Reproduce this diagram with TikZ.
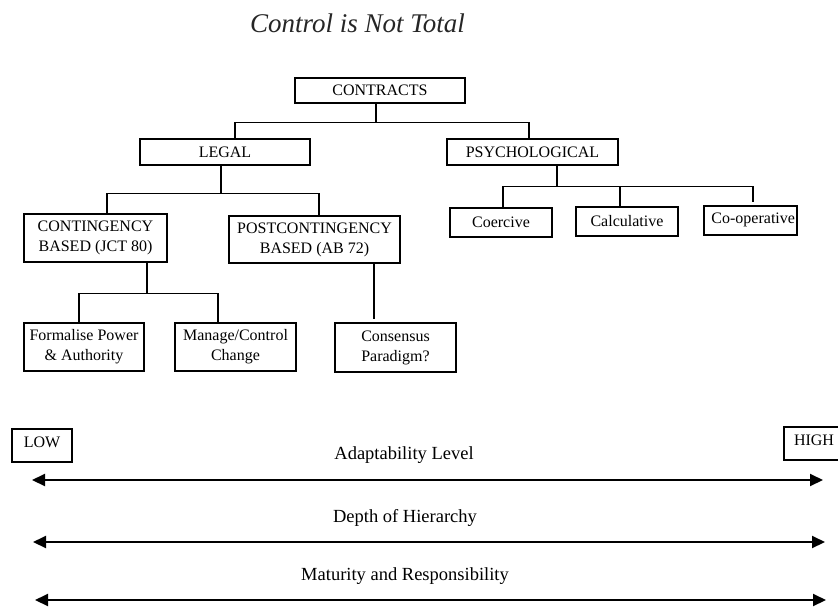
\documentclass[tikz,border=0pt]{standalone}
\usepackage{fontspec}
\setmainfont{Liberation Serif}
\usetikzlibrary{arrows.meta,calc}

\begin{document}
\begin{tikzpicture}[x=1pt,y=-1pt,
  box/.style={draw,line width=1.4pt,inner sep=0pt,align=center,
    font=\fontsize{16}{20}\selectfont},
  link/.style={line width=1.4pt},
  scaleline/.style={line width=2pt,
    {Triangle[length=13pt,width=12pt]}-{Triangle[length=13pt,width=12pt]}},
  axislabel/.style={anchor=base,font=\fontsize{18.5}{22}\selectfont},
  endbox/.style={box,minimum width=60pt,minimum height=33pt,
    text height=10pt,text depth=7pt}]
\useasboundingbox (0,0) rectangle (838,608);
\clip (0,0) rectangle (838,608);

% title
\node[anchor=base,font=\fontsize{27}{32}\selectfont\itshape,text=black!85]
  (title) at (357.5,32) {Control is Not Total};

% tree of contract types
\node[box,minimum width=170pt,minimum height=25pt] (contracts) at (380,90.5) {CONTRACTS};
\node[box,minimum width=170pt,minimum height=26pt] (legal) at (225,152) {LEGAL};
\node[box,minimum width=171pt,minimum height=26pt] (psych) at (532.5,152) {PSYCHOLOGICAL};
\node[box,minimum width=143pt,minimum height=48pt] (cont) at (95.5,238) {CONTINGENCY\\BASED (JCT 80)};
\node[box,minimum width=171pt,minimum height=47pt] (post) at (314.5,239.5) {POSTCONTINGENCY\\BASED (AB 72)};
\node[box,minimum width=120pt,minimum height=48pt] (formal) at (84,347) {Formalise Power\\\& Authority};
\node[box,minimum width=121pt,minimum height=48pt] (manage) at (235.5,347) {Manage/Control\\Change};
\node[box,minimum width=121pt,minimum height=49pt] (consensus) at (395.5,347.5) {Consensus\\Paradigm?};
\node[box,minimum width=102pt,minimum height=29pt] (coercive) at (501,222.5) {Coercive};
\node[box,minimum width=102pt,minimum height=29pt] (calc) at (627,221.5) {Calculative};
\node[box,minimum width=93pt,minimum height=29pt,text width=89pt,align=right,
  inner xsep=2pt,text height=10.5pt,text depth=5pt] (coop) at (750.5,220.5) {Co-operative};

% connectors
\draw[link] ($(contracts.south)+(-4,0)$) -- ++(0,19) -| ($(legal.north)+(10,0)$);
\draw[link] ($(contracts.south)+(-4,0)$) -- ++(0,19) -| ($(psych.north)+(-3.5,0)$);
\draw[link] ($(legal.south)+(-4,0)$) -- ++(0,28) -| ($(cont.north)+(11.5,0)$);
\draw[link] ($(legal.south)+(-4,0)$) -- ++(0,28) -| ($(post.north)+(4.5,0)$);
\draw[link] ($(cont.south)+(51.5,0)$) -- ++(0,31) -| ($(formal.north)+(-5,0)$);
\draw[link] ($(cont.south)+(51.5,0)$) -- ++(0,31) -| ($(manage.north)+(-17.5,0)$);
\draw[link,shorten >=3pt] ($(post.south)+(59.5,0)$) -- ($(consensus.north)+(-21.5,0)$);
\draw[link] ($(psych.south)+(24.5,0)$) -- ++(0,21) -| ($(coercive.north)+(2,0)$);
\draw[link] ($(psych.south)+(24.5,0)$) -- ++(0,21) -| ($(calc.north)+(-7,0)$);
\draw[link,shorten >=3pt] ($(psych.south)+(24.5,0)$) -- ++(0,21) -| ($(coop.north)+(2.5,0)$);

% scales
\node[endbox] (low) at (42,445.5) {LOW};
\node[endbox] (high) at (814,443.5) {HIGH};

\coordinate (adaptW) at (32,480);  \coordinate (adaptE) at (823,480);
\coordinate (depthW) at (33,542);  \coordinate (depthE) at (825,542);
\coordinate (matW)   at (35,600);  \coordinate (matE)   at (826,600);

\node[axislabel] (adapt) at (404,459) {Adaptability Level};
\node[axislabel] (depth) at (405,522) {Depth of Hierarchy};
\node[axislabel] (mat)   at (405,580) {Maturity and Responsibility};

\draw[scaleline] (adaptW) -- (adaptE);
\draw[scaleline] (depthW) -- (depthE);
\draw[scaleline] (matW) -- (matE);
\end{tikzpicture}
\end{document}
